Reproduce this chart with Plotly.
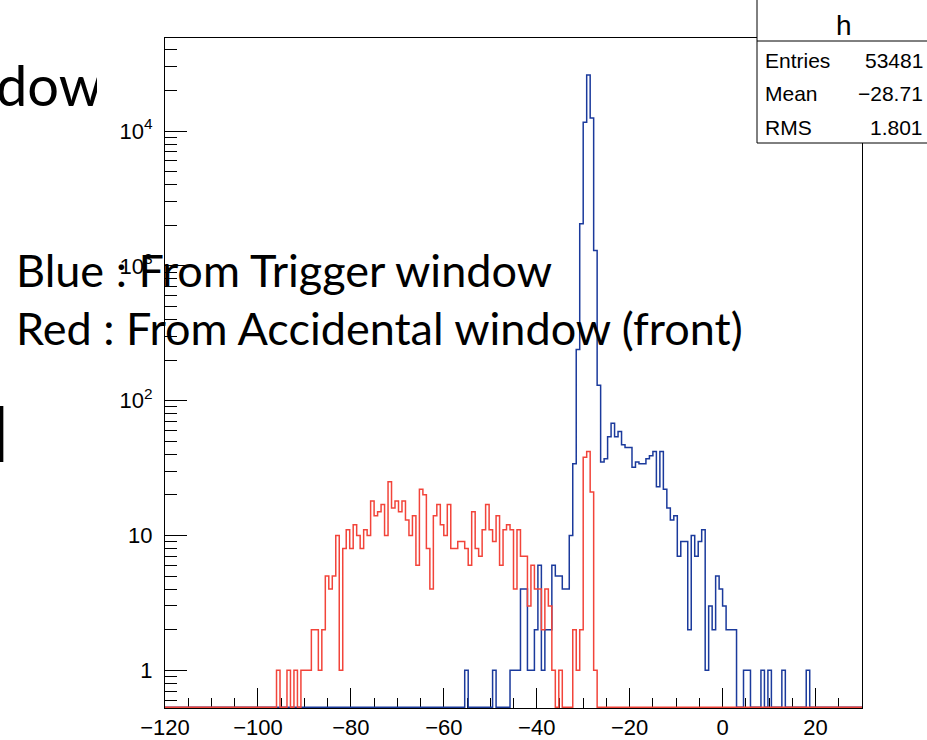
import numpy as np
import plotly.graph_objects as go

# ---------------- data ----------------
X_MIN, X_MAX, N_BINS = -120.0, 30.0, 200

# blue : from trigger window (bin contents, 200 bins from -120 to 30)
blue_counts = (
    [0] * 86
    + [1, 0, 0, 0, 0, 0, 0, 0, 1, 0, 0, 0, 0, 1, 1, 1, 4, 4, 1, 1,      # 86-105
       2, 6, 1, 2, 2, 6, 5, 5, 4, 4, 10, 34, 239, 2050, 11600, 26000,   # 106-121
       12500, 1300, 130, 35, 37, 54, 68, 54, 59, 47, 45, 45, 32, 35,    # 122-135
       34, 34, 37, 39, 42, 23, 42, 22, 16, 13, 14, 7, 9, 9, 2, 10,      # 136-151
       7, 9, 11, 1, 3, 2, 5, 4, 3, 2, 2, 2, 0, 0, 1, 1, 0, 0, 0, 1,     # 152-171
       0, 1, 0, 0, 0, 1, 0, 0, 0, 0, 0, 0, 1]                           # 172-184
    + [0] * 15
)

# red : from accidental window (front)
red_counts = (
    [0] * 32
    + [1, 0, 0, 1, 0, 1, 0, 1, 1, 1, 2, 2, 1, 2, 5, 4, 5, 10, 1, 8,     # 32-51
       11, 8, 12, 10, 8, 11, 10, 18, 14, 15, 17, 10, 25, 16, 18, 15,    # 52-67
       18, 13, 10, 14, 6, 22, 20, 8, 4, 14, 17, 12, 10, 17, 8, 8,       # 68-83
       9, 9, 8, 6, 15, 8, 7, 11, 17, 11, 9, 14, 6, 11, 12, 11,          # 84-99
       4, 11, 7, 7, 3, 6, 4, 4, 2, 4, 3, 1, 0, 1, 0, 0,                 # 100-115
       0, 2, 1, 2, 38, 42, 21, 1]                                        # 116-123
    + [0] * 76
)

x_tick_vals = [-120, -100, -80, -60, -40, -20, 0, 20]
x_tick_text = ["\u2212120", "\u2212100", "\u221280", "\u221260", "\u221240", "\u221220", "0", "20"]
y_tick_vals = [1, 10, 100, 1000, 10000]
y_tick_text = ["1", "10", "10<sup>2</sup>", "10<sup>3</sup>", "10<sup>4</sup>"]

stats_title = "h"
stats_labels = ["Entries", "Mean", "RMS"]
stats_values = ["53481", "\u221228.71", "1.801"]

note_lines = ["Blue : From Trigger window", "Red : From Accidental window (front)"]

# ---------------- layout geometry (pixels) ----------------
W, H = 927, 740
PLOT_L, PLOT_R, PLOT_T, PLOT_B = 165, 862, 38, 708
Y_LOG_MIN, Y_LOG_MAX = -0.28, 4.69


def px(x):
    return x / W


def py(y):
    return 1 - y / H


BLUE = "#1b3a9c"
RED = "#f2443a"

edges = np.linspace(X_MIN, X_MAX, N_BINS + 1)
# empty bins are drawn along the bottom edge of the frame (as ROOT does on log axes)
floor_val = 10 ** (Y_LOG_MIN + 0.006)


def step_xy(counts):
    vals = np.array(counts, dtype=float)
    vals = np.where(vals > 0, vals, floor_val)
    y = np.append(vals, vals[-1])
    return edges, y


fig = go.Figure()

bx, by = step_xy(blue_counts)
fig.add_trace(go.Scatter(x=bx, y=by, mode="lines", line=dict(color=BLUE, width=1.5, shape="hv"),
                         hoverinfo="skip", showlegend=False))
rx, ry = step_xy(red_counts)
fig.add_trace(go.Scatter(x=rx, y=ry, mode="lines", line=dict(color=RED, width=1.5, shape="hv"),
                         hoverinfo="skip", showlegend=False))

# clipped slide-text fragments on the left (outside the chart image)
fig.add_trace(go.Scatter(x=[-4], y=[92], mode="text", text=["dow"], textposition="middle right",
                         textfont=dict(family="Lato", size=56, color="black"),
                         cliponaxis=True, xaxis="x2", yaxis="y2", hoverinfo="skip", showlegend=False))
fig.add_trace(go.Scatter(x=[0], y=[443], mode="text", text=["l"], textposition="middle center",
                         textfont=dict(family="Lato", size=76, color="black"),
                         cliponaxis=True, xaxis="x2", yaxis="y2", hoverinfo="skip", showlegend=False))

minor_y = [m * 10 ** e for e in range(-1, 5) for m in range(2, 10)]
minor_y = [v for v in minor_y if Y_LOG_MIN < np.log10(v) < Y_LOG_MAX]

tick_font = dict(family="Liberation Sans", size=22, color="black")

fig.update_layout(
    width=W, height=H,
    margin=dict(l=0, r=0, t=0, b=0, autoexpand=False),
    paper_bgcolor="white", plot_bgcolor="white",
    xaxis=dict(
        domain=[px(PLOT_L), px(PLOT_R)], range=[X_MIN, X_MAX],
        showline=True, linecolor="black", linewidth=1, mirror=True,
        showgrid=False, zeroline=False, automargin=False,
        ticks="inside", ticklen=20, tickwidth=1, tickcolor="black",
        tickmode="array", tickvals=x_tick_vals, ticktext=x_tick_text,
        tickfont=tick_font, ticklabelstandoff=0,
        minor=dict(ticks="inside", ticklen=10, tickwidth=1, tickcolor="black", dtick=5, tick0=0, showgrid=False),
        layer="below traces", anchor="y",
    ),
    yaxis=dict(
        domain=[py(PLOT_B), py(PLOT_T)], type="log", range=[Y_LOG_MIN, Y_LOG_MAX],
        showline=True, linecolor="black", linewidth=1, mirror=True,
        showgrid=False, zeroline=False, automargin=False,
        ticks="inside", ticklen=22, tickwidth=1, tickcolor="black",
        tickmode="array", tickvals=y_tick_vals, ticktext=y_tick_text,
        tickfont=tick_font, ticklabelstandoff=7,
        minor=dict(ticks="inside", ticklen=12, tickwidth=1, tickcolor="black",
                   tickmode="array", tickvals=minor_y, showgrid=False),
        layer="below traces", anchor="x",
    ),
    xaxis2=dict(domain=[0, px(97)], range=[0, 97], visible=False, anchor="y2", automargin=False),
    yaxis2=dict(domain=[0, 1], range=[H, 0], visible=False, anchor="x2", automargin=False),
)

# statistics box
fig.add_shape(type="rect", xref="paper", yref="paper",
              x0=px(757), x1=px(W + 10), y0=py(143), y1=py(-10),
              line=dict(color="black", width=1), fillcolor="white", layer="above")
fig.add_shape(type="line", xref="paper", yref="paper",
              x0=px(757), x1=px(W + 10), y0=py(41), y1=py(41),
              line=dict(color="black", width=1), layer="above")

stat_font = dict(family="Liberation Sans", size=21, color="black")
fig.add_annotation(x=px(844), y=py(26), xref="paper", yref="paper", text=stats_title,
                   showarrow=False, xanchor="center", yanchor="middle",
                   font=dict(family="Liberation Sans", size=28, color="black"))
for i, (lab, val) in enumerate(zip(stats_labels, stats_values)):
    yc = 60 + i * 33.5
    fig.add_annotation(x=px(763), y=py(yc), xref="paper", yref="paper", text=lab,
                       showarrow=False, xanchor="left", yanchor="middle", font=stat_font)
    fig.add_annotation(x=px(925), y=py(yc), xref="paper", yref="paper", text=val,
                       showarrow=False, xanchor="right", yanchor="middle", font=stat_font)

# overlaid slide notes
for i, line in enumerate(note_lines):
    fig.add_annotation(x=px(14), y=py(270 + i * 58), xref="paper", yref="paper", text=line,
                       showarrow=False, xanchor="left", yanchor="middle",
                       font=dict(family="Lato", size=45, color="black"))

fig.write_html("out.html")
